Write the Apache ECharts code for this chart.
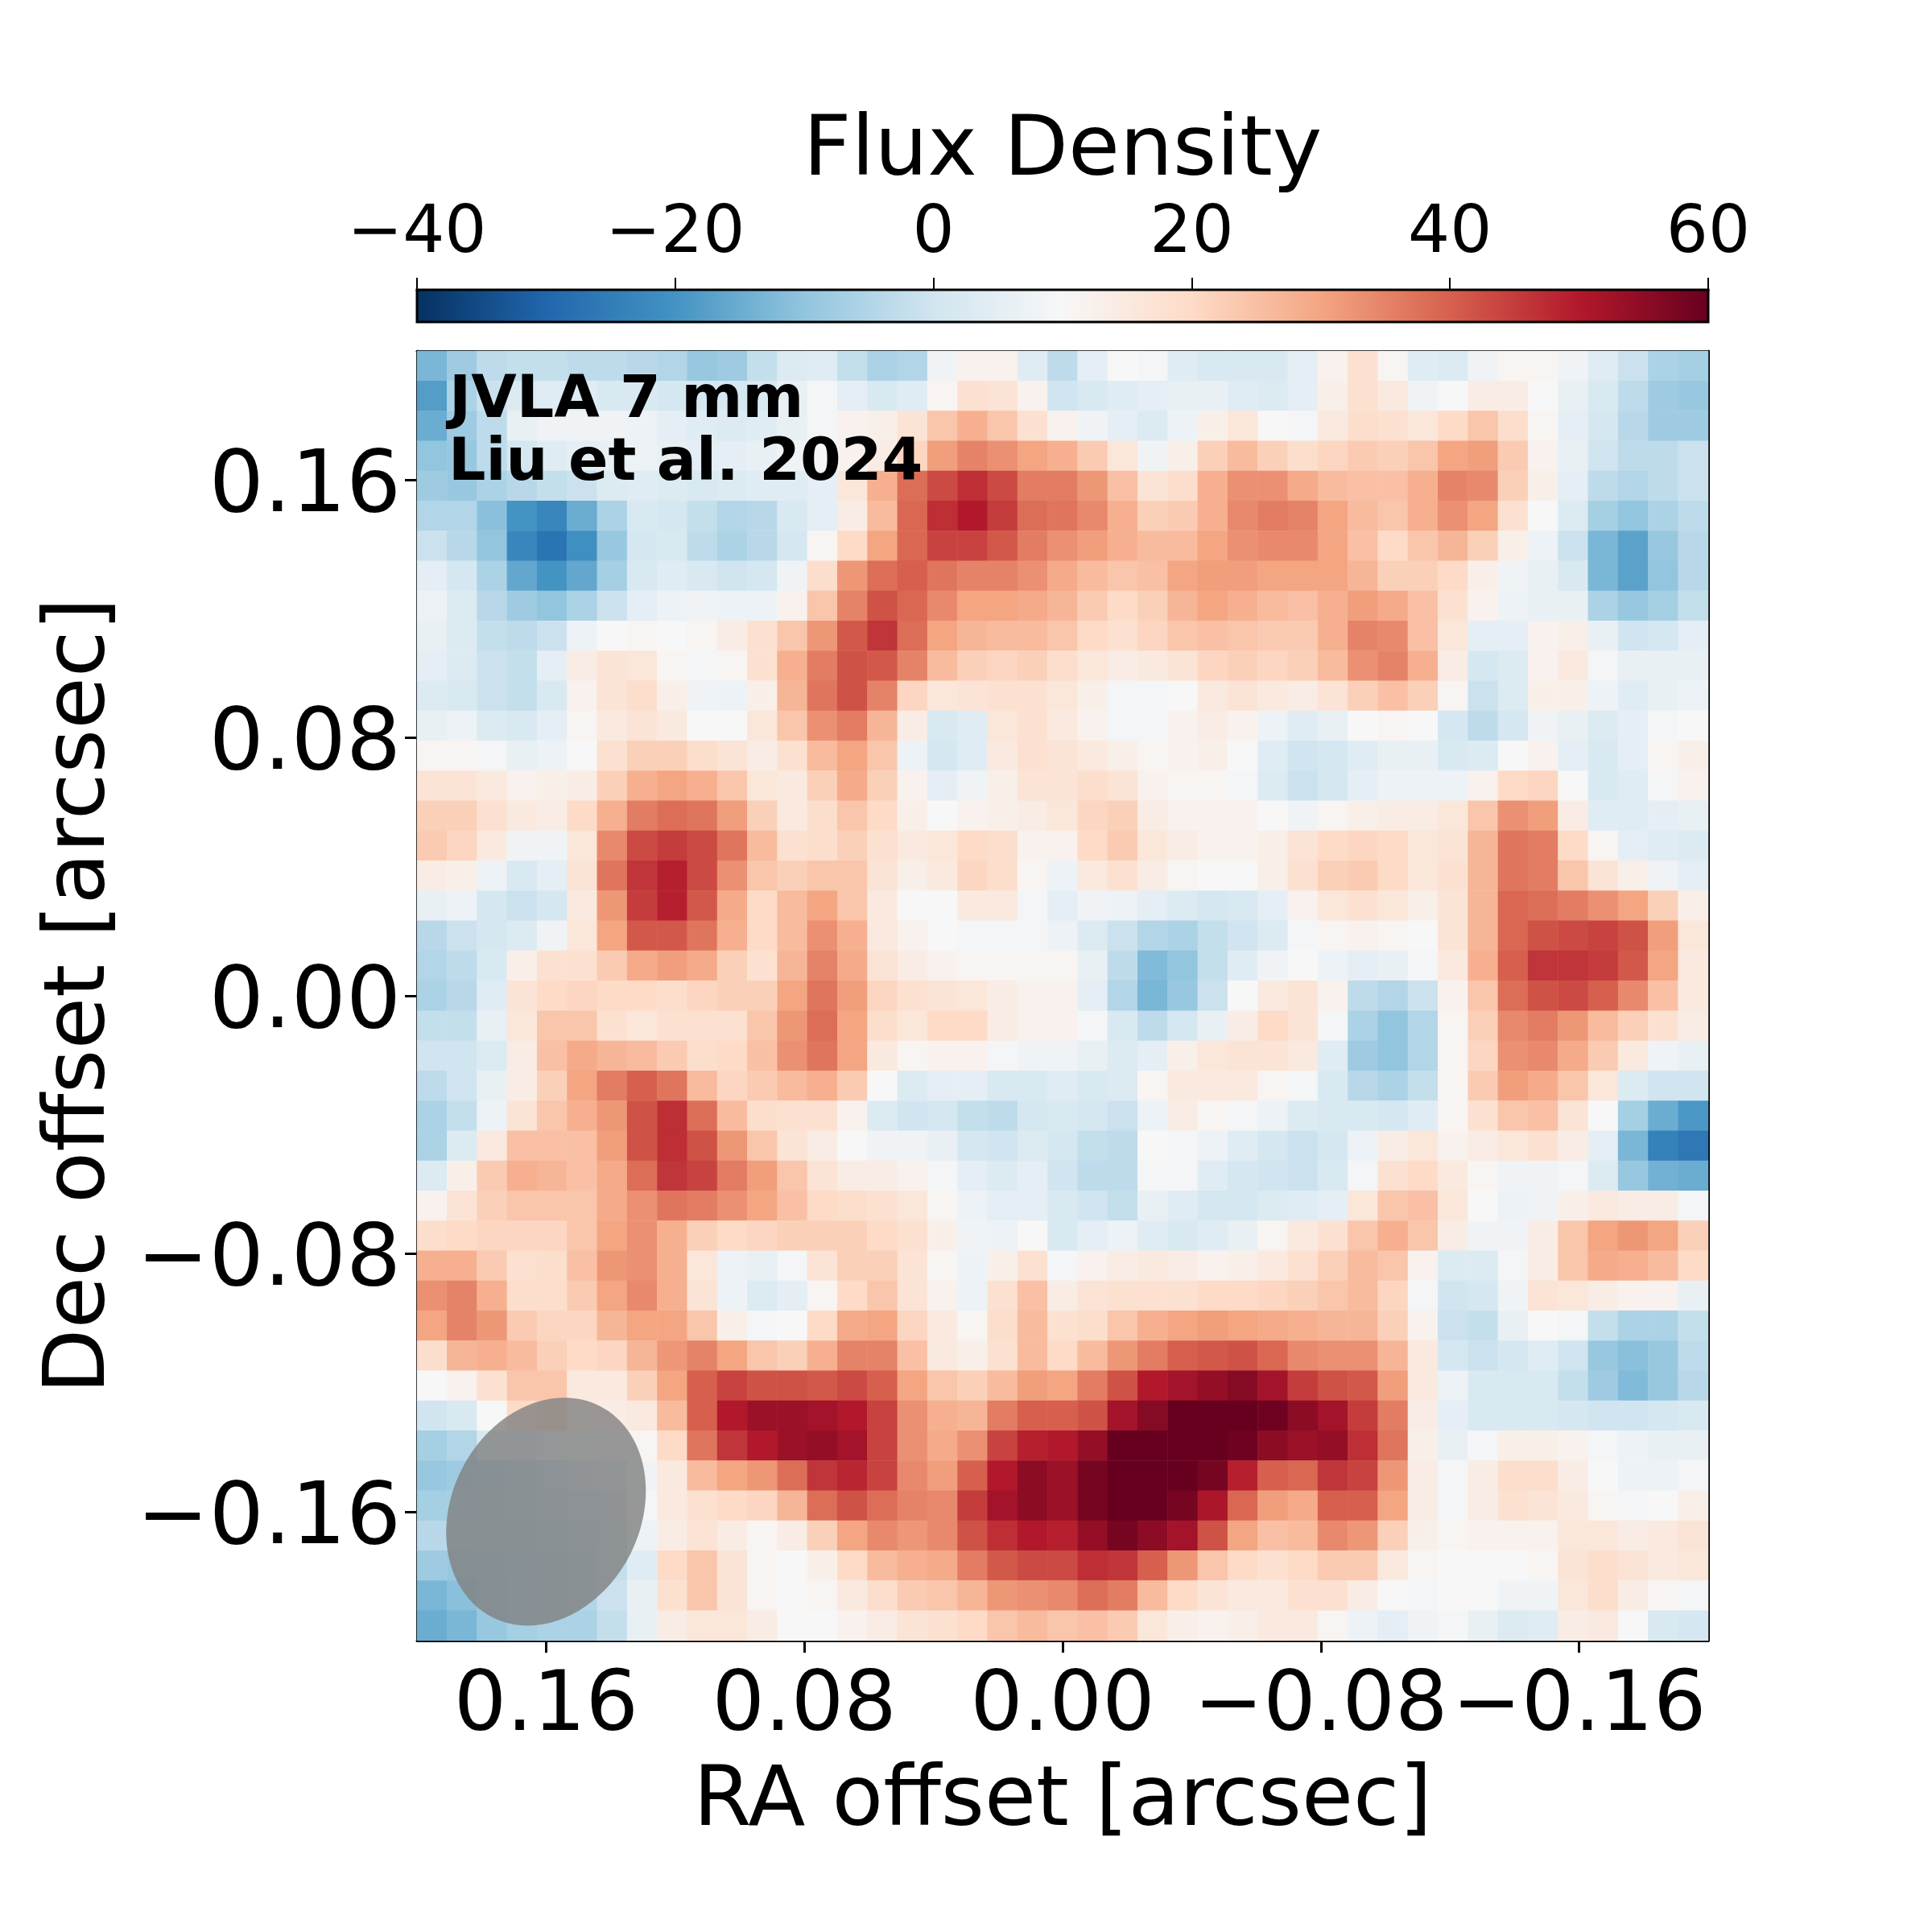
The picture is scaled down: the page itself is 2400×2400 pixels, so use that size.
<!DOCTYPE html>
<html>
<head>
<meta charset="utf-8">
<title>JVLA 7 mm</title>
<script src="https://cdn.jsdelivr.net/npm/echarts@6/dist/echarts.min.js"></script>
<style>
    html, body { margin: 0; padding: 0; background: #fff; }
    #chart { width: 2400px; height: 2400px; }
</style>
</head>
<body>
<div id="chart"></div>
<script>
// flux map, top row first, left column first
var fluxRows = [
[-13,-8,-3,-2,-2,-3,-3,-4,-5,-9,-8,-2,3,4,-2,-6,-5,8,12,12,4,-3,5,10,9,4,2,2,2,5,12,18,11,4,3,8,11,11,8,4,-1,-6,-7],
[-18,-6,-1,3,4,4,2,2,1,1,1,2,6,9,5,2,4,11,18,17,12,0,2,4,5,6,6,4,3,5,13,18,15,8,10,14,14,10,6,2,-3,-8,-9],
[-15,-8,-3,6,8,8,8,7,5,4,3,4,6,9,12,13,17,24,28,24,18,12,8,5,3,7,13,16,10,9,15,19,18,16,20,24,19,11,5,1,-4,-8,-8],
[-10,-9,-3,1,4,5,6,7,6,5,5,6,8,10,12,14,21,31,35,33,30,28,23,16,8,13,22,26,22,19,21,23,22,24,30,31,23,12,6,0,-3,-3,-1],
[-8,-9,-6,-4,-2,-1,3,4,3,2,3,4,4,5,16,28,38,43,47,43,36,36,32,25,17,19,28,33,33,29,26,25,25,28,35,34,22,13,5,-3,-5,-3,-1],
[-5,-5,-11,-20,-23,-15,-6,2,1,-2,-5,-4,2,5,14,26,39,47,50,45,38,37,34,28,22,23,28,34,36,35,30,26,24,28,33,30,18,10,3,-7,-10,-6,-3],
[-1,-4,-10,-23,-27,-21,-9,1,2,-3,-6,-4,1,11,20,30,39,44,44,41,36,33,31,28,26,26,30,33,34,34,30,25,20,24,27,22,13,7,-1,-13,-17,-9,-4],
[5,1,-6,-16,-20,-16,-7,2,4,2,0,1,8,19,32,38,40,37,35,35,33,29,26,24,25,30,31,31,30,30,30,27,22,22,20,13,8,6,2,-13,-17,-10,-4],
[7,3,-4,-8,-10,-6,-1,5,7,8,7,7,12,24,35,42,39,34,30,30,29,27,23,20,22,27,30,28,26,25,28,31,29,25,18,12,7,6,6,-6,-9,-7,-2],
[6,3,-2,-3,-1,7,10,11,10,11,14,18,24,32,41,46,38,30,27,26,26,24,20,18,21,24,25,24,23,23,28,35,34,25,16,5,5,12,13,6,0,1,5],
[5,3,-1,-2,5,14,17,16,11,9,11,18,28,36,42,41,35,26,22,21,22,19,16,14,15,17,21,22,21,22,26,33,35,28,14,1,3,12,15,9,6,6,6],
[3,2,-1,-2,2,12,17,19,13,8,7,13,27,37,42,35,21,16,17,18,18,16,13,9,9,10,15,17,15,14,17,22,25,22,11,-1,3,13,13,7,4,6,7],
[6,7,3,2,5,11,15,17,15,10,10,16,24,33,36,27,14,2,4,16,18,15,12,9,9,12,14,12,7,4,6,10,11,10,1,-3,1,8,6,3,5,9,10],
[11,11,9,6,7,10,18,22,22,19,17,14,18,26,30,24,7,1,4,15,18,17,15,13,11,12,13,10,4,0,1,4,6,6,2,3,10,12,5,2,5,11,13],
[17,17,15,12,13,14,22,28,30,28,24,16,15,22,29,22,12,5,8,13,17,17,19,17,12,11,11,9,3,-1,1,5,7,7,7,12,20,21,10,2,4,9,12],
[22,22,18,15,14,20,28,36,38,37,31,22,15,19,24,20,13,10,12,13,14,16,21,22,14,12,12,12,10,8,11,13,14,14,16,24,33,31,14,4,4,5,6],
[23,21,15,8,8,16,34,43,45,43,37,26,18,19,22,18,15,16,20,19,12,12,20,23,16,14,12,12,13,17,20,21,20,16,17,27,37,36,20,11,5,4,3],
[14,13,7,2,5,17,37,46,49,43,33,24,22,24,24,17,13,15,21,19,11,7,15,18,14,11,10,10,13,18,22,23,20,16,18,27,37,36,24,17,13,8,5],
[6,7,1,-1,1,15,32,45,49,41,29,20,26,30,24,15,10,10,15,15,9,5,8,7,5,3,1,2,5,12,16,18,16,13,17,27,39,38,36,33,30,22,13],
[-4,-1,1,3,8,16,30,41,41,37,28,20,26,33,28,15,12,10,9,9,9,7,3,-1,-5,-6,-2,0,3,9,11,12,11,10,17,27,39,42,43,44,42,31,16],
[-5,-3,2,13,18,18,23,29,31,29,22,18,27,35,29,17,14,12,11,11,11,11,6,-3,-12,-10,-2,4,8,10,7,5,6,9,15,28,40,46,46,45,41,30,15],
[-6,-4,4,17,20,21,20,20,19,21,22,22,30,37,31,21,18,17,16,14,12,12,5,-5,-13,-9,-1,10,15,17,12,-3,-5,-1,12,24,38,42,43,40,34,25,15],
[-2,-2,6,16,24,24,18,16,18,18,18,24,32,38,30,19,16,20,20,14,12,12,9,2,-3,1,6,14,20,17,9,-6,-10,-5,11,22,34,36,32,26,22,18,14],
[0,0,3,14,25,29,27,26,23,19,20,25,33,37,30,15,11,12,12,9,8,8,6,3,5,13,16,17,17,15,4,-8,-10,-5,11,21,33,34,29,23,15,8,6],
[-3,0,6,14,22,30,36,40,37,26,21,23,26,28,23,10,3,5,5,2,2,4,2,3,11,15,15,15,11,9,2,-4,-6,-2,11,23,31,29,24,16,3,0,0],
[-6,-2,7,17,24,28,32,42,47,38,26,19,18,18,12,3,0,1,-2,-3,1,2,1,-1,7,14,11,9,7,3,2,2,1,4,11,18,24,25,17,10,-7,-15,-19],
[-6,3,15,25,25,25,31,42,47,42,32,24,17,14,10,8,8,6,1,0,3,1,-2,-3,10,9,7,4,1,-1,1,7,14,16,12,14,16,18,14,5,-13,-24,-26],
[3,13,23,28,27,25,29,38,46,44,36,31,24,17,14,14,12,9,5,3,5,0,-3,-3,9,9,4,1,0,-1,2,9,18,20,15,11,8,8,9,3,-9,-14,-15],
[12,17,22,24,24,24,29,33,37,36,33,30,25,20,19,18,16,11,7,5,5,2,0,-2,6,4,1,1,3,4,5,16,24,25,16,10,7,8,13,15,14,14,9],
[19,20,21,21,21,24,30,33,28,22,20,21,22,22,22,20,18,13,8,7,10,2,5,7,4,2,4,6,11,15,18,24,28,24,14,8,8,14,24,30,32,30,22],
[28,28,23,18,19,25,32,33,28,16,7,6,9,17,22,22,17,11,7,13,18,9,12,14,15,14,12,13,15,18,22,26,24,12,3,3,9,14,24,29,28,26,20],
[33,35,28,19,19,23,30,34,28,17,7,3,5,11,20,24,17,12,7,18,25,14,17,18,18,18,20,20,21,22,24,26,21,9,0,1,8,17,16,14,12,12,6],
[30,35,32,23,21,21,27,30,30,24,13,9,10,20,29,30,21,15,11,19,26,18,19,24,28,30,31,30,29,28,27,27,22,12,-1,-2,6,10,9,-2,-6,-6,-2],
[19,27,28,26,22,20,21,27,32,35,30,24,22,28,35,35,25,15,13,18,26,20,26,32,36,40,41,42,39,34,33,33,27,15,1,-1,1,4,0,-9,-11,-9,-3],
[10,12,18,24,24,15,15,22,30,40,44,42,42,41,43,40,30,24,22,26,31,30,36,42,50,52,54,56,52,45,42,41,31,15,7,2,2,2,-2,-8,-12,-9,-4],
[0,2,10,20,22,15,14,15,26,40,50,53,53,52,50,44,33,28,27,36,40,40,42,52,56,60,60,60,59,55,52,45,36,14,5,2,2,2,1,0,0,1,2],
[-7,-5,2,3,6,8,9,11,20,37,46,50,53,54,52,44,33,29,33,44,49,50,54,60,60,60,60,59,55,53,54,47,37,13,6,9,13,13,12,9,7,6,6],
[-9,-8,-7,-5,-3,0,2,8,15,26,30,32,38,46,48,44,34,31,40,50,55,53,58,60,60,60,58,49,40,39,46,44,32,14,9,14,19,19,14,10,7,7,9],
[-7,-7,-6,-5,-4,-3,-1,9,15,18,20,21,27,38,42,38,35,34,45,52,55,53,58,60,60,58,51,39,31,29,40,40,30,14,9,14,18,17,15,11,9,10,13],
[-4,-6,-6,-6,-5,-4,-2,7,14,17,14,11,14,22,30,34,32,34,42,47,50,49,54,58,55,52,42,30,25,26,34,32,22,13,11,12,12,12,16,16,14,15,17],
[-8,-9,-8,-7,-6,-5,-2,4,20,24,17,11,10,13,20,26,28,29,36,41,43,43,47,46,40,32,24,20,18,20,23,23,15,11,10,10,10,11,17,19,17,15,16],
[-13,-11,-9,-7,-6,-5,-1,6,18,24,17,11,10,11,15,19,23,24,27,32,33,34,38,36,26,20,17,15,15,18,18,14,10,9,10,10,8,8,16,19,14,11,9],
[-15,-13,-9,-7,-6,-6,-2,6,14,16,16,14,10,10,12,14,17,18,20,24,26,24,25,23,16,13,12,13,15,15,11,7,5,8,9,6,3,4,14,15,10,2,1]
];

var offsetTicks = [-0.16, -0.08, 0, 0.08, 0.16];
var rdbuColors = ['#053061', '#2166ac', '#4393c3', '#92c5de', '#d1e5f0', '#f7f7f7',
    '#fddbc7', '#f4a582', '#d6604d', '#b2182b', '#67001f'];
var beam = [0.16, -0.16]; // centre of the beam
var beamMajor = 0.0735, beamMinor = 0.0585, beamAngle = 27;
var fontName = 'DejaVu Sans';

var cols = [], rows = [], cells = [];
fluxRows[0].forEach(function (v, j) { cols.push(j); });
fluxRows.forEach(function (row, i) {
    rows.push(i);
    row.forEach(function (v, j) { cells.push([j, i, v]); });
});

function minusLabel(v) {
    return v.toFixed(2).replace('-', '\u2212');
}

var myChart = echarts.init(document.getElementById('chart'));

var frameAxis = {
    type: 'value', min: -0.2, max: 0.2, gridIndex: 0,
    axisLine: { show: true, onZero: false, lineStyle: { color: '#000', width: 3 } },
    axisTick: { show: false }, axisLabel: { show: false }, splitLine: { show: false }
};

var option = {
    animation: false,
    backgroundColor: '#fff',
    textStyle: { fontFamily: fontName },
    grid: [
        { left: 518, top: 436, width: 1604, height: 1602 },
        { left: 518, top: 360, width: 1604, height: 40 }
    ],
    visualMap: {
        show: false, seriesIndex: 0, min: -40, max: 60,
        inRange: { color: rdbuColors }
    },
    xAxis: [
        { type: 'category', data: cols, gridIndex: 0, show: false },
        Object.assign({}, frameAxis, {
            position: 'bottom', inverse: true,
            name: 'RA offset [arcsec]', nameLocation: 'middle', nameGap: 150,
            nameTextStyle: { fontSize: 104, color: '#000', fontFamily: fontName },
            axisTick: { show: true, length: 15, customValues: offsetTicks,
                lineStyle: { color: '#000', width: 3 } },
            axisLabel: { show: true, margin: 33, fontSize: 103, color: '#000', fontFamily: fontName,
                hideOverlap: false, customValues: offsetTicks, formatter: minusLabel }
        }),
        Object.assign({}, frameAxis, { position: 'top', inverse: true }),
        {
            type: 'value', gridIndex: 1, position: 'top', min: -40, max: 60, interval: 20,
            name: 'Flux Density', nameLocation: 'middle', nameGap: 118,
            nameTextStyle: { fontSize: 104, color: '#000', fontFamily: fontName },
            axisLine: { show: true, onZero: false, lineStyle: { color: '#000', width: 3 } },
            axisTick: { show: true, length: 15, lineStyle: { color: '#000', width: 2 } },
            axisLabel: { margin: 27, fontSize: 82, color: '#000', fontFamily: fontName,
                formatter: function (v) { return String(v).replace('-', '\u2212'); } },
            splitLine: { show: false }
        }
    ],
    yAxis: [
        { type: 'category', data: rows, gridIndex: 0, show: false, inverse: true },
        Object.assign({}, frameAxis, {
            position: 'left',
            name: 'Dec offset [arcsec]', nameLocation: 'middle', nameGap: 364,
            nameTextStyle: { fontSize: 105, color: '#000', fontFamily: fontName },
            axisTick: { show: true, length: 15, customValues: offsetTicks,
                lineStyle: { color: '#000', width: 3 } },
            axisLabel: { show: true, margin: 20, color: '#000', fontFamily: fontName,
                customValues: offsetTicks,
                formatter: function (v) { return '{t|' + minusLabel(v) + '}'; },
                rich: { t: { fontSize: 107, color: '#000', fontFamily: fontName, padding: [22, 0, 0, 0] } } }
        }),
        Object.assign({}, frameAxis, { position: 'right' }),
        { type: 'value', gridIndex: 1, min: 0, max: 1, show: false }
    ],
    series: [
        {
            type: 'heatmap', xAxisIndex: 0, yAxisIndex: 0, data: cells,
            itemStyle: { borderWidth: 0 }, emphasis: { disabled: true }, silent: true, z: 1
        },
        {
            // synthesized beam
            type: 'custom', xAxisIndex: 1, yAxisIndex: 1, data: [beam], z: 3, silent: true, clip: false,
            renderItem: function (params, api) {
                var c = api.coord([api.value(0), api.value(1)]);
                var s = api.size([beamMinor / 2, beamMajor / 2]);
                return {
                    type: 'ellipse', x: c[0], y: c[1], rotation: -beamAngle * Math.PI / 180,
                    shape: { cx: 0, cy: 0, rx: s[0], ry: s[1] },
                    style: { fill: 'rgba(128,128,128,0.8)' }
                };
            }
        },
        {
            // colorbar
            type: 'custom', xAxisIndex: 3, yAxisIndex: 3, data: [[-40, 60]], z: 3, silent: true, clip: false,
            renderItem: function (params, api) {
                var a = api.coord([api.value(0), 1]);
                var b = api.coord([api.value(1), 0]);
                var stops = rdbuColors.map(function (c, i) {
                    return { offset: i / (rdbuColors.length - 1), color: c };
                });
                return {
                    type: 'rect',
                    shape: { x: a[0], y: a[1], width: b[0] - a[0], height: b[1] - a[1] },
                    style: {
                        fill: new echarts.graphic.LinearGradient(0, 0, 1, 0, stops),
                        stroke: '#000', lineWidth: 3
                    }
                };
            }
        }
    ],
    graphic: [
        { type: 'text', left: 558, top: 463, z: 10,
            style: { text: 'JVLA 7 mm', font: 'bold 73px "DejaVu Sans"', fill: '#000' } },
        { type: 'text', left: 557, top: 541, z: 10,
            style: { text: 'Liu et al. 2024', font: 'bold 73px "DejaVu Sans"', fill: '#000' } }
    ]
};

myChart.setOption(option);
window.addEventListener('resize', function () {
    myChart.resize();
});
</script>
</body>
</html>
